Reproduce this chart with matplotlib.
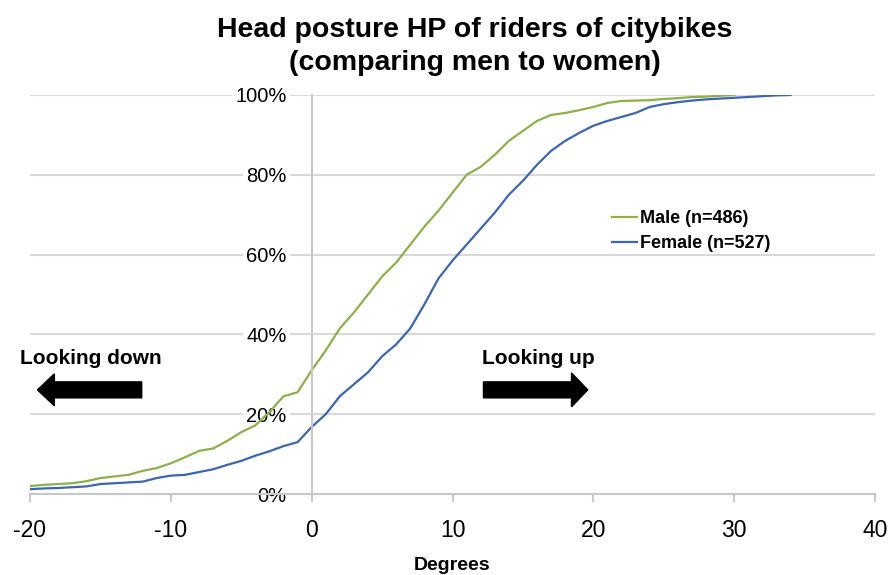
import matplotlib
matplotlib.use("Agg")
import matplotlib.pyplot as plt
from matplotlib.patches import FancyArrow
from matplotlib.ticker import PercentFormatter

plt.rcParams['font.family'] = ['Liberation Sans', 'DejaVu Sans']
plt.rcParams['axes.unicode_minus'] = False

# kumulativni podil jezdcu podle uhlu hlavy
deg_male = list(range(-20, 31))
male = [2.0, 2.3, 2.5, 2.7, 3.2, 4.0, 4.4, 4.8, 5.8, 6.5,
        7.7, 9.2, 10.8, 11.4, 13.3, 15.5, 17.2, 20.5, 24.5, 25.5,
        31.0, 36.0, 41.5, 45.5, 50.0, 54.5, 58.0, 62.5, 67.0, 71.0,
        75.5, 80.0, 82.0, 85.0, 88.5, 91.0, 93.5, 95.0, 95.5, 96.2,
        97.0, 98.0, 98.5, 98.6, 98.7, 99.0, 99.2, 99.5, 99.6, 99.8,
        100.0]

deg_female = list(range(-20, 35))
female = [1.2, 1.4, 1.5, 1.7, 1.9, 2.5, 2.7, 2.9, 3.1, 4.0,
          4.6, 4.8, 5.5, 6.2, 7.3, 8.3, 9.6, 10.7, 12.0, 13.0,
          16.8, 20.0, 24.5, 27.5, 30.5, 34.5, 37.5, 41.5, 47.5, 54.0,
          58.5, 62.5, 66.5, 70.5, 75.0, 78.5, 82.5, 86.0, 88.5, 90.5,
          92.3, 93.5, 94.5, 95.5, 97.0, 97.7, 98.2, 98.6, 98.9, 99.1,
          99.3, 99.5, 99.7, 99.9, 100.0]

green = '#8db04a'
blue = '#3c66ad'
gray = '#c8c8c8'

fig = plt.figure(figsize=(8.96, 5.75), dpi=100)
ax = fig.add_axes([30/896, 1-494/575, 845/896, 399/575])

ax.plot(deg_male, male, color=green, lw=1.6, label='Male (n=486)')
ax.plot(deg_female, female, color=blue, lw=1.6, label='Female (n=527)')

ax.set_xlim(-20, 40)
ax.set_ylim(0, 100)
ax.set_xticks(range(-20, 41, 10))
ax.set_yticks(range(0, 101, 20))
ax.yaxis.set_major_formatter(PercentFormatter(decimals=0))
ax.grid(axis='y', color='#d9d9d9', lw=1.5)
ax.set_axisbelow(True)

for s in ['top', 'right']:
    ax.spines[s].set_visible(False)
ax.spines['left'].set_position(('data', 0))
ax.spines['left'].set_color(gray)
ax.spines['left'].set_linewidth(1.5)
ax.spines['bottom'].set_color(gray)
ax.spines['bottom'].set_linewidth(1.5)

ax.tick_params(axis='x', length=6, width=1.5, color=gray, labelsize=16.5, pad=12)
ax.tick_params(axis='y', length=0, labelsize=14.5, pad=18)
for lab in ax.get_yticklabels():
    lab.set_bbox(dict(facecolor='white', edgecolor='none', boxstyle='square,pad=0.15'))

ax.set_xlabel('Degrees', fontsize=14, fontweight='bold', labelpad=10.5)

leg = ax.legend(loc='center left', bbox_to_anchor=(612/896, 1-231/575),
                bbox_transform=fig.transFigure, frameon=True, fancybox=False,
                edgecolor='none', framealpha=1, borderpad=0, borderaxespad=0,
                handlelength=1.4, handletextpad=0.15, labelspacing=0.45,
                prop=dict(size=13, weight='bold'))

# sipky
ax.add_patch(FancyArrow(-12.07, 26.1, -7.4, 0, width=4.0, head_width=8.0,
                        head_length=1.2, length_includes_head=True,
                        color='black', clip_on=False))
ax.add_patch(FancyArrow(12.2, 26.1, 7.4, 0, width=4.0, head_width=8.5,
                        head_length=1.15, length_includes_head=True,
                        color='black', clip_on=False))
ax.text(-20.7, 34.0, 'Looking down', fontsize=15, fontweight='bold',
        va='center', ha='left', clip_on=False)
ax.text(12.1, 34.0, 'Looking up', fontsize=15, fontweight='bold',
        va='center', ha='left')

fig.text(475/896, 1-37/575, 'Head posture HP of riders of citybikes',
         ha='center', va='baseline', fontsize=20.5, fontweight='bold')
fig.text(475/896, 1-70/575, '(comparing men to women)',
         ha='center', va='baseline', fontsize=20.5, fontweight='bold')

fig.savefig('out.png', dpi=100)
